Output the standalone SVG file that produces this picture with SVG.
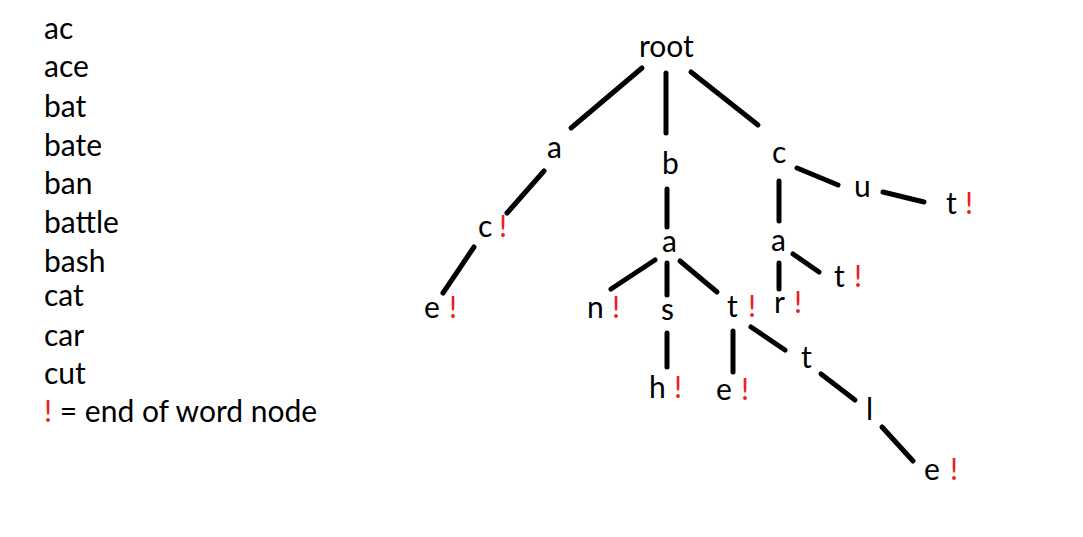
<svg xmlns="http://www.w3.org/2000/svg" width="1083" height="537" viewBox="0 0 1083 537">
  <style>
    text { font-family: Lato, "Open Sans", "Liberation Sans", sans-serif; font-size: 30px; fill: #000; }
    .end { fill: #ee1c25; }
    #edges line { stroke: #000; stroke-width: 5; stroke-linecap: round; }
  </style>
  <rect width="1083" height="537" fill="#fff"/>

  <!-- word list -->
  <g id="word-list">
    <text x="44" y="39">ac</text>
    <text x="44" y="77">ace</text>
    <text x="44" y="117">bat</text>
    <text x="44" y="156">bate</text>
    <text x="44" y="194">ban</text>
    <text x="44" y="233">battle</text>
    <text x="44" y="272">bash</text>
    <text x="44" y="306">cat</text>
    <text x="44" y="346">car</text>
    <text x="44" y="384">cut</text>
    <text x="44" y="422"><tspan class="end">!</tspan> = end of word node</text>
  </g>

  <!-- trie edges -->
  <g id="edges">
    <line x1="642" y1="68" x2="571" y2="128"/>
    <line x1="666" y1="73" x2="666" y2="133"/>
    <line x1="691" y1="72" x2="758" y2="125"/>
    <line x1="544" y1="171" x2="507" y2="213"/>
    <line x1="474" y1="247" x2="443" y2="293"/>
    <line x1="667" y1="189" x2="667" y2="227"/>
    <line x1="655" y1="260" x2="611" y2="289"/>
    <line x1="667" y1="263" x2="667" y2="295"/>
    <line x1="680" y1="261" x2="717" y2="292"/>
    <line x1="667" y1="333" x2="667" y2="367"/>
    <line x1="733" y1="331" x2="733" y2="372"/>
    <line x1="751" y1="327" x2="785" y2="350"/>
    <line x1="821" y1="374" x2="855" y2="400"/>
    <line x1="882" y1="427" x2="913" y2="461"/>
    <line x1="797" y1="168" x2="838" y2="185"/>
    <line x1="883" y1="192" x2="924" y2="202"/>
    <line x1="779" y1="181" x2="779" y2="221"/>
    <line x1="793" y1="254" x2="819" y2="272"/>
    <line x1="779" y1="263" x2="779" y2="289"/>
  </g>

  <!-- trie nodes -->
  <g id="n-root"><text x="639" y="57">root</text></g>
  <g id="n-a"><text x="547" y="158">a</text></g>
  <g id="n-ac"><text x="478" y="237">c</text><text class="end" x="499" y="237">!</text></g>
  <g id="n-ace"><text x="424" y="318">e</text><text class="end" x="449" y="318">!</text></g>
  <g id="n-b"><text x="662" y="174">b</text></g>
  <g id="n-ba"><text x="662" y="252">a</text></g>
  <g id="n-ban"><text x="587" y="318">n</text><text class="end" x="612" y="318">!</text></g>
  <g id="n-bas"><text x="661" y="320">s</text></g>
  <g id="n-bash"><text x="649" y="398">h</text><text class="end" x="674" y="398">!</text></g>
  <g id="n-bat"><text x="727" y="317">t</text><text class="end" x="748" y="317">!</text></g>
  <g id="n-bate"><text x="716" y="400">e</text><text class="end" x="741" y="400">!</text></g>
  <g id="n-batt"><text x="801" y="368">t</text></g>
  <g id="n-battl"><text x="866" y="420">l</text></g>
  <g id="n-battle"><text x="924" y="480">e</text><text class="end" x="950" y="480">!</text></g>
  <g id="n-c"><text x="772" y="163">c</text></g>
  <g id="n-cu"><text x="854" y="197">u</text></g>
  <g id="n-cut"><text x="946" y="214">t</text><text class="end" x="965" y="214">!</text></g>
  <g id="n-ca"><text x="771" y="251">a</text></g>
  <g id="n-cat"><text x="834" y="287">t</text><text class="end" x="854" y="287">!</text></g>
  <g id="n-car"><text x="774" y="313">r</text><text class="end" x="794" y="313">!</text></g>
</svg>
